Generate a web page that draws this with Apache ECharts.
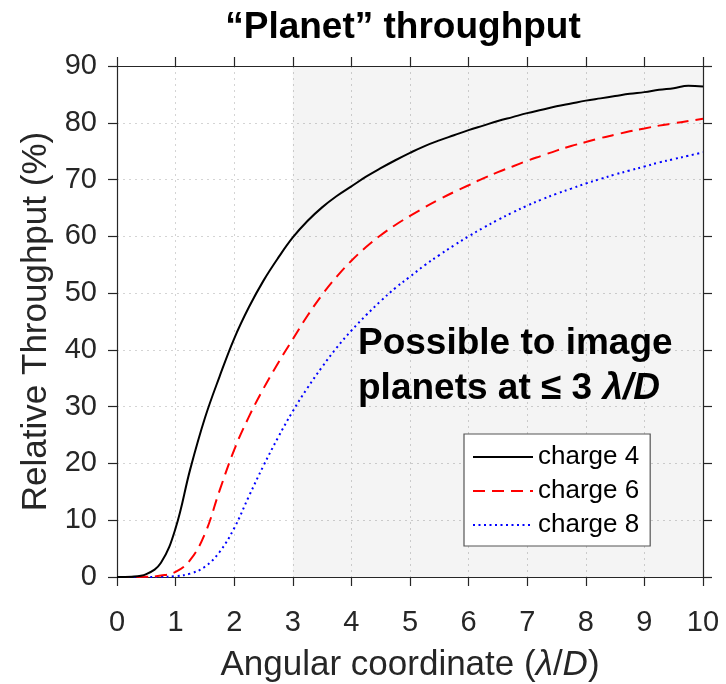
<!DOCTYPE html>
<html>
<head>
<meta charset="utf-8">
<script src="https://cdn.jsdelivr.net/npm/echarts@6/dist/echarts.min.js"></script>
<style>
  html, body { margin: 0; padding: 0; background: #fff; }
  #chart { width: 726px; height: 684px; }
</style>
</head>
<body>
<div id="chart"></div>
<script>
// Angular coordinate in units of lambda/D, sampled every 0.25
const angularCoord = [0, 0.25, 0.5, 0.75, 1, 1.25, 1.5, 1.75, 2, 2.25, 2.5, 2.75, 3,
  3.25, 3.5, 3.75, 4, 4.25, 4.5, 4.75, 5, 5.25, 5.5, 5.75, 6, 6.25, 6.5, 6.75, 7,
  7.25, 7.5, 7.75, 8, 8.25, 8.5, 8.75, 9, 9.25, 9.5, 9.75, 10];
// Relative throughput (%) for each vortex charge
const charge4 = [0, 0.05, 0.5, 2.5, 8.6, 19.0, 28.0, 35.3, 42.0, 47.5, 52.2, 56.2, 59.8,
  62.7, 65.1, 67.1, 68.8, 70.5, 72.0, 73.4, 74.7, 75.9, 76.9, 77.8, 78.7, 79.5, 80.3, 81.0, 81.7,
  82.3, 82.9, 83.4, 83.9, 84.3, 84.7, 85.1, 85.4, 85.8, 86.1, 86.5, 86.4];
const charge6 = [0, 0, 0.03, 0.25, 0.9, 3.0, 7.6, 15.2, 22.4, 28.2, 33.2, 37.7, 41.9,
  46.0, 49.7, 52.9, 55.7, 58.1, 60.2, 62.0, 63.6, 65.1, 66.5, 67.8, 69.0, 70.2, 71.3, 72.3, 73.3,
  74.2, 75.1, 75.9, 76.6, 77.3, 77.9, 78.5, 79.0, 79.5, 79.9, 80.3, 80.7];
const charge8 = [0, 0, 0, 0.03, 0.15, 0.6, 1.8, 4.4, 8.6, 14.2, 19.6, 24.6, 29.2,
  33.3, 37.0, 40.4, 43.4, 46.1, 48.6, 50.9, 52.9, 54.9, 56.7, 58.4, 60.0, 61.5, 62.9, 64.2, 65.4,
  66.5, 67.5, 68.4, 69.3, 70.1, 70.9, 71.6, 72.3, 73.0, 73.6, 74.2, 74.8];
const seriesNames = ['charge 4', 'charge 6', 'charge 8'];
// Region reachable for imaging (lambda/D)
const shadedRange = [3, 10];

const FONT = '"Liberation Sans", Arial, Helvetica, sans-serif';
const AXIS_COLOR = '#262626';
const GRID_LINE = { show: true, lineStyle: { color: '#d4d4d4', type: [2, 4], width: 1 } };

function pairs(ys) { return angularCoord.map((x, i) => [x, ys[i]]); }

const chart = echarts.init(document.getElementById('chart'), null, { renderer: 'canvas' });

const baseAxis = {
  type: 'value',
  axisLine: { show: true, onZero: false, lineStyle: { color: AXIS_COLOR, width: 1.2 } },
  axisTick: { show: true, inside: false, length: 9, lineStyle: { color: AXIS_COLOR, width: 1.2 } },
  axisLabel: { color: AXIS_COLOR, fontSize: 29, fontFamily: FONT },
  splitLine: { show: false }
};

function lineSeries(name, ys, color, type, z) {
  return {
    name: name, type: 'line', data: pairs(ys),
    smooth: 0.4,
    showSymbol: false, symbol: 'none', z: z,
    lineStyle: { color: color, width: 2, type: type },
    itemStyle: { color: color }
  };
}

const s4 = lineSeries(seriesNames[0], charge4, '#000000', 'solid', 5);
s4.markArea = {
  silent: true,
  itemStyle: { color: 'rgba(0,0,0,0.045)' },
  data: [[{ xAxis: shadedRange[0] }, { xAxis: shadedRange[1] }]]
};

chart.setOption({
  animation: false,
  backgroundColor: '#fff',
  title: {
    text: '“Planet” throughput',
    left: 398, top: 4, textAlign: 'center',
    textStyle: { fontSize: 37, fontWeight: 'bold', color: '#000', fontFamily: FONT }
  },
  grid: { left: 117, right: 23, top: 66, bottom: 107, containLabel: false, outerBoundsMode: 'none' },
  xAxis: [
    Object.assign({}, baseAxis, {
      min: 0, max: 10, interval: 1, position: 'bottom',
      axisLabel: Object.assign({}, baseAxis.axisLabel, { margin: 31 }),
      splitLine: GRID_LINE,
      name: 'Angular coordinate ({i|λ}/{i|D})',
      nameLocation: 'middle', nameGap: 71,
      nameTextStyle: {
        fontSize: 35, color: AXIS_COLOR, fontFamily: FONT,
        rich: { i: { fontSize: 35, fontStyle: 'italic', color: AXIS_COLOR, fontFamily: FONT } }
      }
    }),
    Object.assign({}, baseAxis, {
      min: 0, max: 10, interval: 1, position: 'top',
      axisLabel: { show: false }
    })
  ],
  yAxis: [
    Object.assign({}, baseAxis, {
      min: 0, max: 90, interval: 10, position: 'left',
      axisLabel: Object.assign({}, baseAxis.axisLabel, { margin: 20 }),
      splitLine: GRID_LINE,
      name: 'Relative Throughput (%)',
      nameLocation: 'middle', nameGap: 62, nameRotate: 90,
      nameTextStyle: { fontSize: 35, color: AXIS_COLOR, fontFamily: FONT }
    }),
    Object.assign({}, baseAxis, {
      min: 0, max: 90, interval: 10, position: 'right',
      axisLabel: { show: false }
    })
  ],
  legend: {
    orient: 'vertical',
    left: 464, top: 434,
    padding: [10, 11, 8, 8],
    itemWidth: 60, itemHeight: 14, itemGap: 8,
    backgroundColor: '#fff',
    borderColor: '#555', borderWidth: 1.2, borderRadius: 0,
    itemStyle: { opacity: 0 },
    textStyle: { fontSize: 26, color: '#000', fontFamily: FONT },
    data: seriesNames
  },
  series: [
    s4,
    lineSeries(seriesNames[1], charge6, '#ff0000', [12, 7], 4),
    lineSeries(seriesNames[2], charge8, '#0000ff', [2, 3.5], 3)
  ],
  graphic: [
    {
      type: 'text', left: 358, top: 321, z: 10,
      style: {
        text: 'Possible to image\nplanets at ≤ 3 {i|λ/D}',
        fontSize: 37, fontWeight: 'bold', fill: '#000', fontFamily: FONT,
        lineHeight: 45,
        rich: { i: { fontSize: 37, fontWeight: 'bold', fontStyle: 'italic', fill: '#000', fontFamily: FONT, lineHeight: 45 } }
      }
    }
  ]
});
</script>
</body>
</html>
